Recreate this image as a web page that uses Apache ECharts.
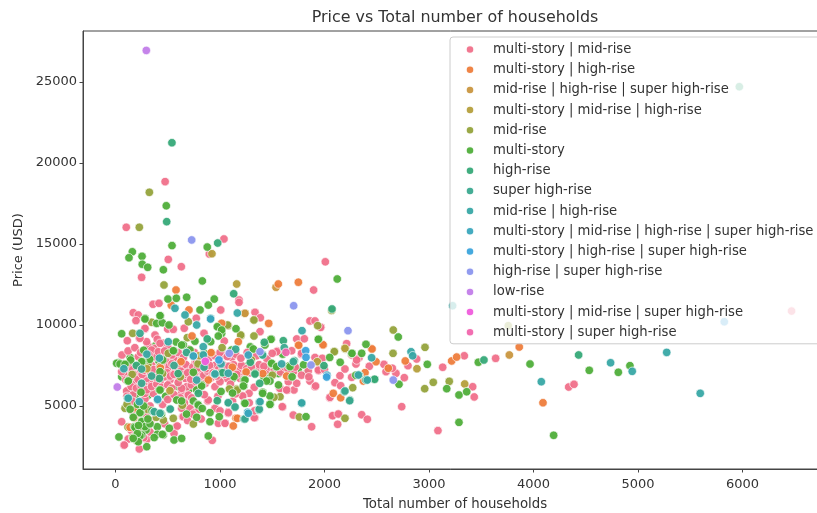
<!DOCTYPE html>
<html>
<head>
<meta charset="utf-8">
<title>Price vs Total number of households</title>
<script src="https://cdn.jsdelivr.net/npm/echarts@6/dist/echarts.min.js"></script>
<style>
  html, body { margin: 0; padding: 0; background: #fff; overflow: hidden; }
  /* the reference is a soft, upscaled screenshot */
  #chart { width: 817px; height: 513px; filter: blur(0.45px); }
</style>
</head>
<body>
<div id="chart"></div>
<script>
// legend order, same as the picture
const categories = [
  'multi-story | mid-rise',
  'multi-story | high-rise',
  'mid-rise | high-rise | super high-rise',
  'multi-story | mid-rise | high-rise',
  'mid-rise',
  'multi-story',
  'high-rise',
  'super high-rise',
  'mid-rise | high-rise',
  'multi-story | mid-rise | high-rise | super high-rise',
  'multi-story | high-rise | super high-rise',
  'high-rise | super high-rise',
  'low-rise',
  'multi-story | mid-rise | super high-rise',
  'multi-story | super high-rise'
];
const xTicks = [0, 1000, 2000, 3000, 4000, 5000, 6000];
const yTicks = [5000, 10000, 15000, 20000, 25000];

// [total households, price]
const multiMid = [
  [475,18850],[103,16030],[1038,15310],[898,14380],[505,14050],[2008,13900],[630,13600],[250,12940],[1896,12160],[1182,11540],
  [1182,11400],[1335,10780],[1386,10450],[1861,10250],[1909,10250],[1966,9860],[359,11280],[416,11340],[1007,10930],[773,10410],
  [170,10760],[218,10620],[196,10270],[282,9750],[499,9750],[658,9800],[847,9490],[1041,9010],[113,9030],[228,9180],
  [378,9380],[400,9120],[458,8870],[308,8770],[378,8560],[378,8040],[62,8150],[522,7330],[697,7330],[187,6910],
  [273,6850],[825,7330],[904,7120],[107,5930],[170,6300],[362,5780],[282,5430],[633,5780],[691,5640],[882,5310],
  [148,4750],[633,4860],[713,4860],[643,4340],[1079,4550],[59,4030],[337,4090],[122,2960],[81,2570],[228,2350],
  [299,2940],[579,3720],[560,3310],[926,2880],[984,3930],[1048,3930],[1079,4650],[1335,4280],[1048,3930],[1734,9140],
  [1807,9150],[2212,8850],[1686,8410],[1548,8400],[1778,8190],[1306,7980],[1909,8000],[1979,7940],[2330,7980],[2301,7590],
  [2429,7450],[1944,7180],[1845,7180],[2148,6870],[2260,6770],[1701,7100],[1402,7180],[1191,7430],[1239,7160],[2100,6440],
  [2155,6250],[2050,5490],[2684,7020],[2739,4960],[2356,4460],[2410,4180],[2075,4400],[2136,4510],[2126,3870],[1877,3720],
  [1701,4440],[1600,4940],[1574,6050],[1648,5990],[1708,5990],[1734,6400],[1654,6500],[1861,6540],[1909,6190],[1328,6150],
  [1278,5780],[1217,5620],[2882,7900],[2569,7570],[2589,7120],[2649,7330],[2764,6750],[2799,7490],[3131,7390],[3338,8100],
  [3638,7940],[3418,6190],[3433,5560],[4337,6170],[4388,6340],[3086,3480],[6470,10860],
  [521,7324],[585,7839],[553,7324],[617,7530],[489,7736],[761,7633],[792,7118],[665,6707],[601,6707],[521,6604],
  [426,6501],[330,6398],[266,6398],[186,6604],[91,6912],[164,5678],[282,5781],[697,5678],[888,5369],[952,6192],
  [1064,6707],[1191,6707],[1223,7118],[1303,7942],[1399,7221],[1542,8353],[1781,8250],[1963,9855],[1941,7221],[1915,6234],
  [1702,7118],[1574,6089],[1638,5987],[2053,5534],[2196,7283],[2260,8147],[2308,7839],[1217,5616],[1596,4957],[2078,4402],
  [2132,4505],[1328,4278],[1080,4587],[952,4854],[649,4340],[591,3764],[336,4093],[154,4752],[193,4793],[84,2591],
  [266,8250],[298,8970],[426,8868],[346,8456],[218,8044],[505,8559],[362,7427],[426,7118],[298,6707],[362,6810],
  [569,6912],[713,6912],[808,6604],[872,7530],[1032,8147],[1159,7427],[218,7324],[154,7118],[59,7118],[553,7942],
  [649,7633],[458,8044],[681,6192],[792,6089],[633,6089],[553,9730],[1112,8000],[1383,9590],[282,9790],[234,9180],
  [130,7400],[165,7250],[205,6950],[240,7100],[285,7050],[315,7200],[345,7500],[380,7000],[410,7300],[445,6900],
  [480,7100],[505,7400],[540,7600],[575,7200],[610,7000],[640,7300],[675,7550],[705,7150],[740,7400],[775,7700],
  [810,7300],[845,6900],[880,7150],[915,6750],[950,7500],[985,7250],[1020,7600],[1055,7300],[1095,7100],[1130,7550],
  [1170,7150],[1205,7500],[1255,7300],[1290,7050],[1340,7300],[1375,7550],[1440,7200],[1480,7400],[1520,7250],[1580,7100],
  [1620,7400],[150,6200],[200,6100],[245,6250],[300,6000],[345,6200],[395,6350],[440,6150],[500,6300],[540,6100],
  [600,6450],[725,6300],[770,6500],[860,6400],[1000,6500],[1100,6350],[120,8400],[185,8600],[240,8300],[320,8150],
  [410,8350],[470,8400],[540,8150],[600,8300],[650,8000],[700,8500],[755,8300],[820,7950],[890,7900],[950,8100],
  [1000,8300],[1070,8050],[1150,8200],[1200,7950],[1260,8300],[1350,8100],[1450,7900],[1500,8250],
  [100,6600],[135,6700],[175,6950],[215,6650],[255,6950],[275,7200],[335,7050],[365,7250],[395,6750],[435,7500],
  [465,6800],[495,7050],[525,6850],[560,6950],[590,7400],[625,7150],[660,6950],[690,7050],[720,6650],[755,7000],
  [785,7350],[830,7600],[865,7300],[900,7500],[935,7050],[970,6850],[1010,7100],[1045,6950],[1085,7450],[1120,7250],
  [1160,6950],[1300,7400],[1420,7450],[1560,7450],[1650,7300],[1720,7400],[1780,6900],[1850,6800],[2000,7250],[110,5600],
  [160,5300],[240,4900],[290,4500],[330,5000],[450,5100],[500,5400],[560,5700],[620,5500],[660,5200],[730,5500],
  [760,4600],[800,4800],[850,5700],[980,5600],[1120,5300],[1150,5750],[1280,5200],[1330,4700],[150,3500],[190,3200],
  [330,3400],[270,3050],[470,3900],[690,4100],[740,4500],[820,4200],[1000,4700]
];
const multiHigh = [
  [579,12160],[1558,12530],[1750,12640],[534,11220],[703,10930],[1466,10100],[1016,10102],[732,9320],[920,8291],[627,7736],
  [914,8290],[180,4280],[203,4860],[139,3682],[1175,8971],[1118,7390],[1749,8765],[1989,8765],[1753,8750],[1986,8780],
  [2451,8540],[1638,6850],[2084,5780],[2155,5510],[2388,7060],[2372,6540],[1153,4240],[1127,3770],[1166,4237],[888,6604],
  [2455,8520],[2493,7730],[2611,7330],[2773,7780],[3217,7780],[3265,8020],[3864,8640],[4091,5200],[430,7350],[1250,7100],[1410,7000]
];
const midHighSuper = [[1536,12330],[3769,8150],[1239,10720]];
const multiMidHigh = [[923,14400],[1160,12530],[1236,10720],[521,5945],[1931,7736],[2885,7300],[3342,6360],[2196,8559],[300,7300],[800,8100]];
const midRise = [
  [324,18190],[228,16030],[464,12470],[2069,10900],[1322,10310],[1935,9960],[1079,9960],[1325,9320],[1201,9340],[2094,8380],
  [2199,8520],[164,9485],[346,10164],[697,10200],[687,9220],[681,8312],[984,9938],[1073,10000],[1198,9382],[1325,10308],
  [2094,8353],[1159,6048],[1574,5570],[1517,5540],[1166,5990],[1759,4320],[2196,4240],[91,4860],[203,2860],[745,3887],
  [553,4237],[458,4134],[426,7427],[505,8250],[2270,6130],[2658,9690],[2962,8620],[2656,8250],[3041,6460],[2959,6070],
  [3194,6520],[3759,9960],[160,6950],[310,7600],[450,7000],[620,6800],[790,7600],[1020,8600],[120,3700],[240,3600],
  [165,3050],[300,4800],[110,5100],[390,4300],[640,5050],[1090,6050],[1500,6900],[1300,7850]
];
// the part of multi-story that sits under the pink pile
const multiStoryUnder = [
  [60,6800],[100,7000],[170,7100],[230,6900],[290,7250],[340,7050],[400,7550],[470,7400],[530,6900],[610,7500],
  [680,7000],[730,6800],[800,7450],[860,7000],[930,7300],[1000,6800],[1060,7450],[1120,6700],[1190,7000],[1270,7500],
  [1350,7300],[1420,6800],[1480,7000],[1600,7200],[1750,7300],[1830,7000],[130,5900],[190,5700],[310,5650],[480,5600],
  [600,6200],[700,6000],[140,8000],[380,8700],[580,8950],[760,9000],[850,8250],[1110,8450],[1290,8650],[1600,8200],
  [180,7400],[260,7100],[380,6700],[510,7100],[640,6900],[770,7300],[900,6850],[1040,7200],[1150,7300],[1310,7200],[1560,7000]
];
const multiStory = [
  [486,17360],[541,14900],[878,14810],[161,14520],[129,14150],[254,14240],[256,13750],[308,13560],[458,13410],[831,12720],
  [502,11600],[582,11650],[681,11710],[945,11600],[2122,12840],[1153,9770],[1491,9140],[1944,9140],[2397,8810],[2260,8230],
  [1319,8520],[1494,7590],[1335,7020],[1533,7430],[1660,7470],[1481,5100],[1236,5190],[1478,5620],[1409,5850],[1230,6230],
  [1230,6600],[1478,6540],[1823,4340],[809,10930],[888,11230],[429,10570],[282,10410],[394,10100],[448,10140],[59,9460],
  [512,10000],[974,9890],[1016,9490],[911,8970],[270,8440],[649,8770],[560,8410],[452,7840],[327,7880],[260,7730],
  [145,7840],[27,7670],[81,7590],[745,7080],[426,7120],[1016,7060],[117,6540],[244,5850],[419,5990],[586,5370],
  [633,5310],[745,5310],[789,5100],[777,5990],[825,6300],[777,4300],[904,4590],[993,4340],[904,4030],[241,4590],
  [251,4070],[180,3720],[292,3520],[33,3090],[299,2490],[251,3210],[400,3720],[400,3250],[458,3210],[515,3620],
  [560,2900],[633,3000],[888,3150],[282,10370],[426,10576],[553,8415],[633,8765],[713,8456],[1016,9691],[1488,9115],
  [1430,8765],[1494,7633],[1542,7427],[1670,7427],[1941,9115],[11,7633],[43,7592],[91,7571],[250,7736],[824,6233],
  [1134,6810],[1239,6604],[1223,6234],[1446,6542],[123,6542],[426,5987],[792,5060],[1239,5163],[1408,5781],[1478,5101],
  [234,4587],[250,4031],[282,3723],[448,3249],[186,3682],[234,3147],[218,2796],[984,9320],[2263,8250],[2356,8250],
  [2706,9260],[2984,7570],[3472,7700],[2477,6650],[2713,6340],[3170,6070],[3287,5680],[3361,5880],[3967,7590],[4534,7200],
  [4812,7080],[4923,7490],[4193,3190],[3287,3990],[140,4800],[210,5100],[330,3900],[170,4300],[210,3300],[350,4700],
  [270,5000],[170,3000],[310,4200],[370,3050],[440,4500],[220,3800],[680,4500],[830,4850],[1010,5900],[1120,5800],
  [1560,6300],[1690,6800],[1800,7550],[2050,8000],[2150,7700],[2300,6900]
];
const highRise = [
  [540,21250],[490,16380],[978,15060],[1131,11930],[2072,10990],[1606,9032],[1143,4916],[1080,5204],[974,5328],[793,5781],
  [521,4793],[116,5472],[952,6974],[1025,7056],[1335,6974],[1405,8190],[1711,7800],[1995,7490],[2397,6600],[2480,6650],
  [3526,7840],[4432,8150],[5970,24710],[878,9140],[1424,8930],[2244,5369],[2333,6910],[200,7500],[420,6700],[1290,7700],[600,7000],[1380,6400]
];
const superHigh = [
  [1373,4752],[1229,4196],[368,4649],[426,4546],[404,5370],[371,4650],[426,4550],[524,4810],[1079,5200],[1144,4940],
  [1376,5250],[1376,4800],[1239,4200],[1615,8600],[2190,5880],[1408,8147],[1702,7736],[2196,5925],[2241,5330],[346,6850],
  [250,7280],[847,7400],[234,9485],[560,7500],[680,8300],[1150,8500],[250,6400]
];
const midHigh = [
  [569,11030],[665,10620],[911,10410],[1166,10740],[1785,9650],[777,10000],[2451,7980],[1781,5163],[1782,5190],[1383,5266],
  [745,8090],[840,8660],[840,8150],[505,8970],[952,6980],[1079,7020],[122,5480],[228,5270],[777,6600],[2324,6912],
  [2410,6600],[2828,8350],[2844,8100],[4075,6500],[4738,7670],[4945,7140],[5275,8310],[5596,5780],[3226,11190],[1010,7600],[300,8200],[80,7300],[420,7950],[1590,7600]
];
const allFour = [[910,10370],[403,5410],[745,8085],[1265,4610],[1271,4546],[2024,6900],[1271,8147]];
const multiHighSuper = [[990,7839],[1820,8415],[1823,8003],[2021,6790],[5826,10200]];
const highSuper = [[729,15250],[1705,11190],[2225,9650],[1089,8250],[1383,8353],[1871,7530],[2658,6600]];
const lowRise = [[295,26950],[17,6170]];
const multiMidSuper = [[860,7756]];
const multiSuper = [[1631,8312]];

const colors = ['#f0708a', '#ee7d3c', '#c9963f', '#b59f3c', '#95a33c', '#4fae3a', '#36a978', '#3aa98f',
  '#38a8a5', '#3aa7bd', '#3ba4dc', '#8b96ee', '#c27de9', '#ef5cdc', '#f166ad'];

// bottom to top: [category index, points]. not the legend order, the pile needs the pink low down
const layers = [
  [5, multiStoryUnder], [0, multiMid], [4, midRise], [3, multiMidHigh], [2, midHighSuper], [1, multiHigh],
  [5, multiStory], [6, highRise], [7, superHigh], [8, midHigh], [9, allFour], [10, multiHighSuper],
  [11, highSuper], [12, lowRise], [13, multiMidSuper], [14, multiSuper]
];

const font = 'DejaVu Sans';
const textColor = '#333';
const lineColor = '#444';

const chart = echarts.init(document.getElementById('chart'));
chart.setOption({
  animation: false,
  title: {
    text: 'Price vs Total number of households',
    left: 450, top: 5, textAlign: 'center',
    textStyle: { fontFamily: font, fontSize: 15.9, fontWeight: 'normal', color: textColor }
  },
  legend: {
    data: categories,
    orient: 'vertical',
    left: 450, top: 37,
    padding: [5, 12, 4, 14.75],
    itemWidth: 36, itemHeight: 8.5, itemGap: 5.2,
    icon: 'circle',
    selectedMode: false,
    backgroundColor: 'rgba(255,255,255,0.8)',
    borderColor: '#ccc', borderWidth: 1, borderRadius: 3,
    textStyle: { fontFamily: font, fontSize: 13.2, lineHeight: 15, color: textColor }
  },
  // axes run past the right edge of the window, the reference is cropped there
  grid: { left: 83, top: 31, right: -10, bottom: 44, outerBoundsMode: 'none', show: true, borderColor: lineColor, borderWidth: 1, backgroundColor: 'transparent' },
  xAxis: {
    type: 'value', min: -311, max: 6809,
    name: 'Total number of households', nameLocation: 'middle', nameGap: 29,
    nameTextStyle: { fontFamily: font, fontSize: 13.3, color: textColor },
    splitLine: { show: false },
    axisLine: { show: true, onZero: false, lineStyle: { color: lineColor } },
    axisTick: { show: true, length: 3.5, lineStyle: { color: lineColor }, customValues: xTicks },
    axisLabel: { fontFamily: font, fontSize: 13, color: textColor, margin: 9, customValues: xTicks, formatter: v => String(v) }
  },
  yAxis: {
    type: 'value', min: 1111, max: 28148,
    name: 'Price (USD)', nameLocation: 'middle', nameGap: 58,
    nameTextStyle: { fontFamily: font, fontSize: 13, color: textColor },
    splitLine: { show: false },
    axisLine: { show: true, onZero: false, lineStyle: { color: lineColor } },
    axisTick: { show: true, length: 3.5, lineStyle: { color: lineColor }, customValues: yTicks },
    axisLabel: { fontFamily: font, fontSize: 13, color: textColor, margin: 6, customValues: yTicks, formatter: v => String(v) }
  },
  series: layers.map(([i, points]) => ({
    name: categories[i],
    type: 'scatter',
    data: points,
    symbolSize: 8.5,
    itemStyle: { color: colors[i], borderColor: '#fff', borderWidth: 0.7, opacity: 0.95 }
  }))
});
</script>
</body>
</html>
